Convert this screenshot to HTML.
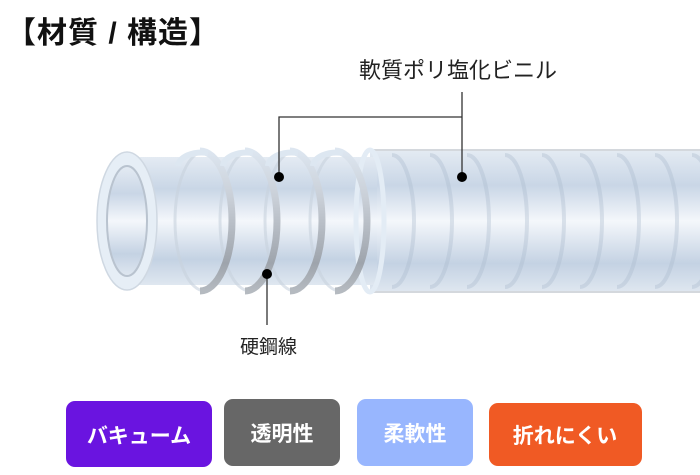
<!DOCTYPE html>
<html><head><meta charset="utf-8"><style>
body{margin:0;width:700px;height:475px;background:#fff;overflow:hidden;font-family:"Liberation Sans","Noto Sans CJK JP",sans-serif;}
svg{position:absolute;left:0;top:0}
</style></head><body>
<svg width="700" height="475" viewBox="0 0 700 475" xmlns="http://www.w3.org/2000/svg">
<defs>
<linearGradient id="tb" x1="0" y1="0" x2="0" y2="1">
<stop offset="0" stop-color="#e4ebf3"/><stop offset="0.25" stop-color="#c9d6e6"/><stop offset="0.5" stop-color="#f4f7fb"/><stop offset="0.8" stop-color="#c4d2e3"/><stop offset="1" stop-color="#dfe7f0"/>
</linearGradient>
<linearGradient id="cl" x1="0" y1="0" x2="0" y2="1">
<stop offset="0" stop-color="#dde6f0"/><stop offset="0.35" stop-color="#c8ced6"/><stop offset="0.8" stop-color="#9ea4ac"/><stop offset="1" stop-color="#b5bac0"/>
</linearGradient>
</defs>
<text x="6" y="43" font-size="30" font-weight="bold" fill="#111" letter-spacing="1" font-family="Liberation Sans,Noto Sans CJK JP,sans-serif">【材質 / 構造】</text>
<!-- right sleeve -->
<rect x="370" y="150" width="330" height="142" fill="url(#tb)"/>
<line x1="370" y1="150" x2="700" y2="150" stroke="#d4d8dd" stroke-width="2"/>
<line x1="370" y1="292" x2="700" y2="292" stroke="#d4d8dd" stroke-width="2"/>
<g fill="none" stroke="#a9b9cc" stroke-width="4" opacity="0.35">
<path d="M392 155 A22 66 0 0 1 392 287"/><path d="M430 155 A22 66 0 0 1 430 287"/><path d="M467 155 A22 66 0 0 1 467 287"/><path d="M505 155 A22 66 0 0 1 505 287"/><path d="M542 155 A22 66 0 0 1 542 287"/><path d="M580 155 A22 66 0 0 1 580 287"/><path d="M617 155 A22 66 0 0 1 617 287"/><path d="M655 155 A22 66 0 0 1 655 287"/><path d="M692 155 A22 66 0 0 1 692 287"/>
</g>
<!-- main tube -->
<rect x="127" y="157" width="250" height="128" fill="url(#tb)"/>
<!-- coil back halves faint -->
<g fill="none" stroke="#c9d3de" stroke-width="3" opacity="0.6">
<path d="M205 151 A30 70 0 0 0 205 291"/><path d="M250 151 A30 70 0 0 0 250 291"/><path d="M295 151 A30 70 0 0 0 295 291"/><path d="M340 151 A30 70 0 0 0 340 291"/>
</g>
<ellipse cx="370" cy="221" rx="14" ry="71" fill="none" stroke="#e3ecf5" stroke-width="5"/>
<!-- coils front -->
<g fill="none" stroke-width="7">
<g stroke="url(#cl)">
<path d="M200 151 A32 70 0 0 1 200 291"/>
<path d="M245 151 A32 70 0 0 1 245 291"/>
<path d="M290 151 A32 70 0 0 1 290 291"/>
<path d="M335 151 A32 70 0 0 1 335 291"/>
</g>
<g stroke="#dde7f1" stroke-width="6">
<path d="M178 166 A24 14 0 0 1 208 153"/><path d="M223 166 A24 14 0 0 1 253 153"/><path d="M268 166 A24 14 0 0 1 298 153"/><path d="M313 166 A24 14 0 0 1 343 153"/>
</g>
</g>
<!-- left end -->
<ellipse cx="127" cy="221" rx="30" ry="69" fill="#e6eef6" stroke="#cfd8e2" stroke-width="1.5"/>
<ellipse cx="127" cy="221" rx="20" ry="55" fill="url(#tb)" stroke="#b9c3cf" stroke-width="2"/>
<!-- callouts -->
<g stroke="#333" stroke-width="1.3" fill="none">
<polyline points="279,177 279,117 462,117"/><line x1="462" y1="92" x2="462" y2="177"/>
<line x1="267" y1="274" x2="267" y2="325"/>
</g>
<circle cx="279" cy="177" r="5" fill="#000"/><circle cx="462" cy="177" r="5" fill="#000"/><circle cx="267" cy="274" r="5" fill="#000"/>
<text x="359" y="78" font-size="22" fill="#222" font-family="Liberation Sans,Noto Sans CJK JP,sans-serif">軟質ポリ塩化ビニル</text>
<text x="240" y="353" font-size="19" fill="#222" font-family="Liberation Sans,Noto Sans CJK JP,sans-serif">硬鋼線</text>
<!-- badges -->
<rect x="66" y="401" width="146" height="66" rx="9" fill="#6a14e0"/>
<text x="139" y="443" font-size="21" font-weight="bold" fill="#fff" text-anchor="middle" font-family="Liberation Sans,Noto Sans CJK JP,sans-serif">バキューム</text>
<rect x="224" y="399" width="116" height="67" rx="9" fill="#676767"/>
<text x="282" y="441" font-size="21" font-weight="bold" fill="#fff" text-anchor="middle" font-family="Liberation Sans,Noto Sans CJK JP,sans-serif">透明性</text>
<rect x="357" y="399" width="116" height="67" rx="9" fill="#98b6fe"/>
<text x="415" y="441" font-size="21" font-weight="bold" fill="#fff" text-anchor="middle" font-family="Liberation Sans,Noto Sans CJK JP,sans-serif">柔軟性</text>
<rect x="489" y="403" width="153" height="63" rx="9" fill="#f05a24"/>
<text x="565" y="443" font-size="21" font-weight="bold" fill="#fff" text-anchor="middle" font-family="Liberation Sans,Noto Sans CJK JP,sans-serif">折れにくい</text>
</svg>
</body></html>
